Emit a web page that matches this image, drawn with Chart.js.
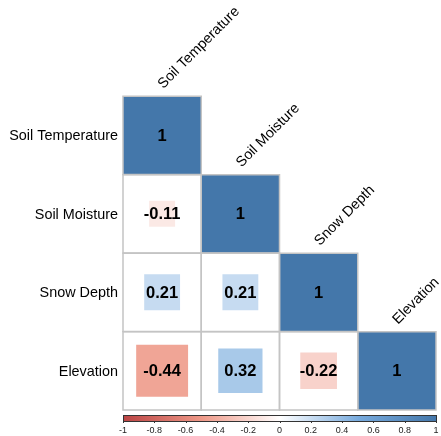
<!DOCTYPE html>
<html>
<head>
<meta charset="utf-8">
<script src="https://cdn.jsdelivr.net/npm/chart.js@4.4.1/dist/chart.umd.min.js"></script>
<style>
  html, body { margin: 0; padding: 0; background: #ffffff; }
  #corr { display: block; }
</style>
</head>
<body>
<canvas id="corr" width="441" height="436"></canvas>
<script>
// Variables of the correlation matrix (rows top to bottom, columns left to right)
const variables = ['Soil Temperature', 'Soil Moisture', 'Snow Depth', 'Elevation'];

// Lower-triangle correlation coefficients, one array per row
const rowSoilTemperature = [1];
const rowSoilMoisture = [-0.11, 1];
const rowSnowDepth = [0.21, 0.21, 1];
const rowElevation = [-0.44, 0.32, -0.22, 1];

// Colour legend ticks
const legendTicks = [-1, -0.8, -0.6, -0.4, -0.2, 0, 0.2, 0.4, 0.6, 0.8, 1];

// Diverging palette anchors (value -> colour)
const paletteStops = [-1, -0.5, 0, 0.5, 1];
const paletteColors = ['#BB4444', '#EE9988', '#FFFFFF', '#77AADD', '#4477AA'];

const FONT = "'Liberation Sans', Arial, sans-serif";

const rows = [rowSoilTemperature, rowSoilMoisture, rowSnowDepth, rowElevation];

function hexToRgb(h) {
  const n = parseInt(h.slice(1), 16);
  return [(n >> 16) & 255, (n >> 8) & 255, n & 255];
}
function corrColor(v) {
  let i = 0;
  while (i < paletteStops.length - 2 && v > paletteStops[i + 1]) i++;
  const t = (v - paletteStops[i]) / (paletteStops[i + 1] - paletteStops[i]);
  const a = hexToRgb(paletteColors[i]), b = hexToRgb(paletteColors[i + 1]);
  const c = a.map((x, k) => Math.round(x + (b[k] - x) * t));
  return `rgb(${c[0]},${c[1]},${c[2]})`;
}

// One point per lower-triangle cell
const cells = [];
rows.forEach((row, i) => row.forEach((v, j) => cells.push({ x: j, y: i, v })));

function cellSize(chart) {
  const sx = chart.scales.x, sy = chart.scales.y;
  const w = Math.abs(sx.getPixelForValue(1) - sx.getPixelForValue(0));
  const h = Math.abs(sy.getPixelForValue(1) - sy.getPixelForValue(0));
  return Math.min(w, h);
}

// Labels: row names, diagonal column names, values in cells, colour legend
const corrLabels = {
  id: 'corrLabels',
  afterDatasetsDraw(chart) {
    const ctx = chart.ctx;
    const sx = chart.scales.x, sy = chart.scales.y;
    const area = chart.chartArea;
    const half = cellSize(chart) / 2;

    // values inside cells
    const meta = chart.getDatasetMeta(1);
    ctx.save();
    ctx.fillStyle = '#000000';
    ctx.font = `bold 16.5px ${FONT}`;
    ctx.textAlign = 'center';
    ctx.textBaseline = 'middle';
    meta.data.forEach((pt, k) => {
      ctx.fillText(String(cells[k].v), pt.x, pt.y + 1);
    });
    ctx.restore();

    // row names on the left
    ctx.save();
    ctx.fillStyle = '#000000';
    ctx.font = `14.4px ${FONT}`;
    ctx.textAlign = 'right';
    ctx.textBaseline = 'middle';
    variables.forEach((name, i) => {
      ctx.fillText(name, area.left - 5, sy.getPixelForValue(i) + 1);
    });
    ctx.restore();

    // column names above each diagonal cell, at 45 degrees
    ctx.save();
    ctx.fillStyle = '#000000';
    ctx.font = `14.4px ${FONT}`;
    ctx.textAlign = 'left';
    ctx.textBaseline = 'alphabetic';
    variables.forEach((name, j) => {
      const cx = sx.getPixelForValue(j);
      const top = sy.getPixelForValue(j) - half;
      ctx.save();
      ctx.translate(cx + 1, top - 7);
      ctx.rotate(-Math.PI / 4);
      ctx.fillText(name, 0, 0);
      ctx.restore();
    });
    ctx.restore();

    // colour legend under the matrix
    const barTop = area.bottom + 5, barH = 6;
    const x0 = area.left, x1 = area.right + 1;
    const grad = ctx.createLinearGradient(x0, 0, x1, 0);
    paletteStops.forEach((s, k) => grad.addColorStop((s + 1) / 2, paletteColors[k]));
    ctx.save();
    ctx.fillStyle = grad;
    ctx.fillRect(x0, barTop, x1 - x0, barH);
    ctx.strokeStyle = '#333333';
    ctx.lineWidth = 1;
    ctx.strokeRect(x0 + 0.5, barTop + 0.5, x1 - x0 - 1, barH);
    ctx.fillStyle = '#222222';
    ctx.font = `9px ${FONT}`;
    ctx.textAlign = 'center';
    ctx.textBaseline = 'middle';
    legendTicks.forEach(t => {
      const px = x0 + (t + 1) / 2 * (x1 - x0 - 1);
      ctx.beginPath();
      ctx.moveTo(Math.round(px) + 0.5, barTop + barH);
      ctx.lineTo(Math.round(px) + 0.5, barTop + barH + 2);
      ctx.stroke();
      ctx.fillText(String(t), px, barTop + barH + 10);
    });
    ctx.restore();
  }
};

new Chart(document.getElementById('corr'), {
  type: 'scatter',
  data: {
    datasets: [
      {
        // cell outlines (drawn on top)
        data: cells,
        pointStyle: 'rect',
        backgroundColor: 'rgba(0,0,0,0)',
        borderColor: '#c4c4c4',
        borderWidth: 1.5,
        pointRadius: ctx => cellSize(ctx.chart) / Math.SQRT2,
        pointHoverRadius: ctx => cellSize(ctx.chart) / Math.SQRT2,
        clip: false,
        order: 0
      },
      {
        // squares sized by sqrt(|r|), coloured by r
        data: cells,
        pointStyle: 'rect',
        backgroundColor: ctx => corrColor(ctx.raw ? ctx.raw.v : 0),
        borderWidth: 0,
        pointRadius: ctx => cellSize(ctx.chart) * Math.sqrt(Math.abs(ctx.raw ? ctx.raw.v : 0)) / Math.SQRT2,
        pointHoverRadius: ctx => cellSize(ctx.chart) * Math.sqrt(Math.abs(ctx.raw ? ctx.raw.v : 0)) / Math.SQRT2,
        clip: false,
        order: 1
      }
    ]
  },
  options: {
    responsive: false,
    animation: false,
    devicePixelRatio: 1,
    layout: { padding: { left: 123, top: 96, right: 5, bottom: 26 } },
    plugins: { legend: { display: false }, tooltip: { enabled: false } },
    events: [],
    scales: {
      x: { type: 'linear', min: -0.5, max: 3.5, display: false },
      y: { type: 'linear', min: -0.5, max: 3.5, reverse: true, display: false }
    }
  },
  plugins: [corrLabels]
});
</script>
</body>
</html>
